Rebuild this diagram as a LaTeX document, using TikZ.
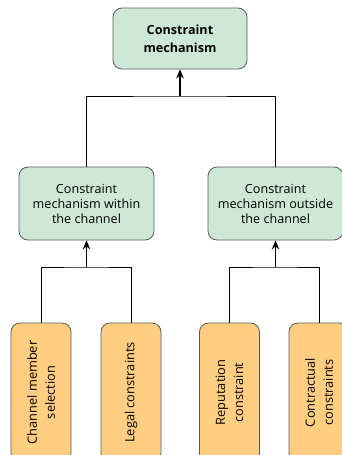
\documentclass[tikz,border=0pt]{standalone}
\usepackage{fontspec}
\setmainfont{Open Sans}
\usetikzlibrary{arrows.meta}
\definecolor{boxgreen}{RGB}{206,232,215}
\definecolor{boxorange}{RGB}{255,206,128}
\definecolor{boxedge}{RGB}{90,90,90}
\tikzset{
  greenbox/.style={draw=boxedge, line width=0.8pt, fill=boxgreen, rounded corners=9pt,
    align=center, font=\fontsize{12.6}{15}\selectfont, inner sep=0pt},
  leafbox/.style={draw=boxedge, line width=0.8pt, fill=boxorange, rounded corners=9pt,
    align=center, font=\fontsize{12.8}{18}\selectfont, inner sep=0pt, rotate=90,
    minimum width=139pt, minimum height=60pt},
  link/.style={line width=0.8pt, draw=black},
  uparrow/.style={line width=1.5pt, -{Stealth[length=9pt,width=7.5pt]}}
}
\begin{document}
\begin{tikzpicture}[x=1pt,y=-1pt]
  \useasboundingbox (0,0) rectangle (342,455);
  \clip (0,0) rectangle (342,455);

  % root
  \node[greenbox, minimum width=134pt, minimum height=61pt, font=\fontsize{12.6}{18}\selectfont\bfseries]
    (root) at (180,38.5) {Constraint\\mechanism};

  % second level
  \node[greenbox, minimum width=135pt, minimum height=73pt]
    (inside) at (86.5,203.5) {Constraint\\mechanism within\\the channel};
  \node[greenbox, minimum width=135pt, minimum height=73pt]
    (outside) at (275.5,203.5) {Constraint\\mechanism outside\\the channel};

  % leaves
  \node[leafbox] (sel) at (41,392.5) {Channel member\\selection};
  \node[leafbox] (legal) at (131,392.5) {Legal constraints};
  \node[leafbox] (rep) at (229.5,392.5) {Reputation\\constraint};
  \node[leafbox] (contr) at (319,392.5) {Contractual\\constraints};

  % junctions
  \coordinate (j0) at (180,96);
  \coordinate (j1) at (86.5,267);
  \coordinate (j2) at (275.5,267);

  % root level tree
  \draw[link] (inside.north) |- (j0) -| (outside.north);
  \draw[uparrow] (j0) -- (root.south);

  % left subtree
  \draw[link] (sel.east) |- (j1) -| (legal.east);
  \draw[uparrow] (j1) -- (inside.south);

  % right subtree
  \draw[link] (rep.east) |- (j2) -| (contr.east);
  \draw[uparrow] (j2) -- (outside.south);
\end{tikzpicture}
\end{document}
